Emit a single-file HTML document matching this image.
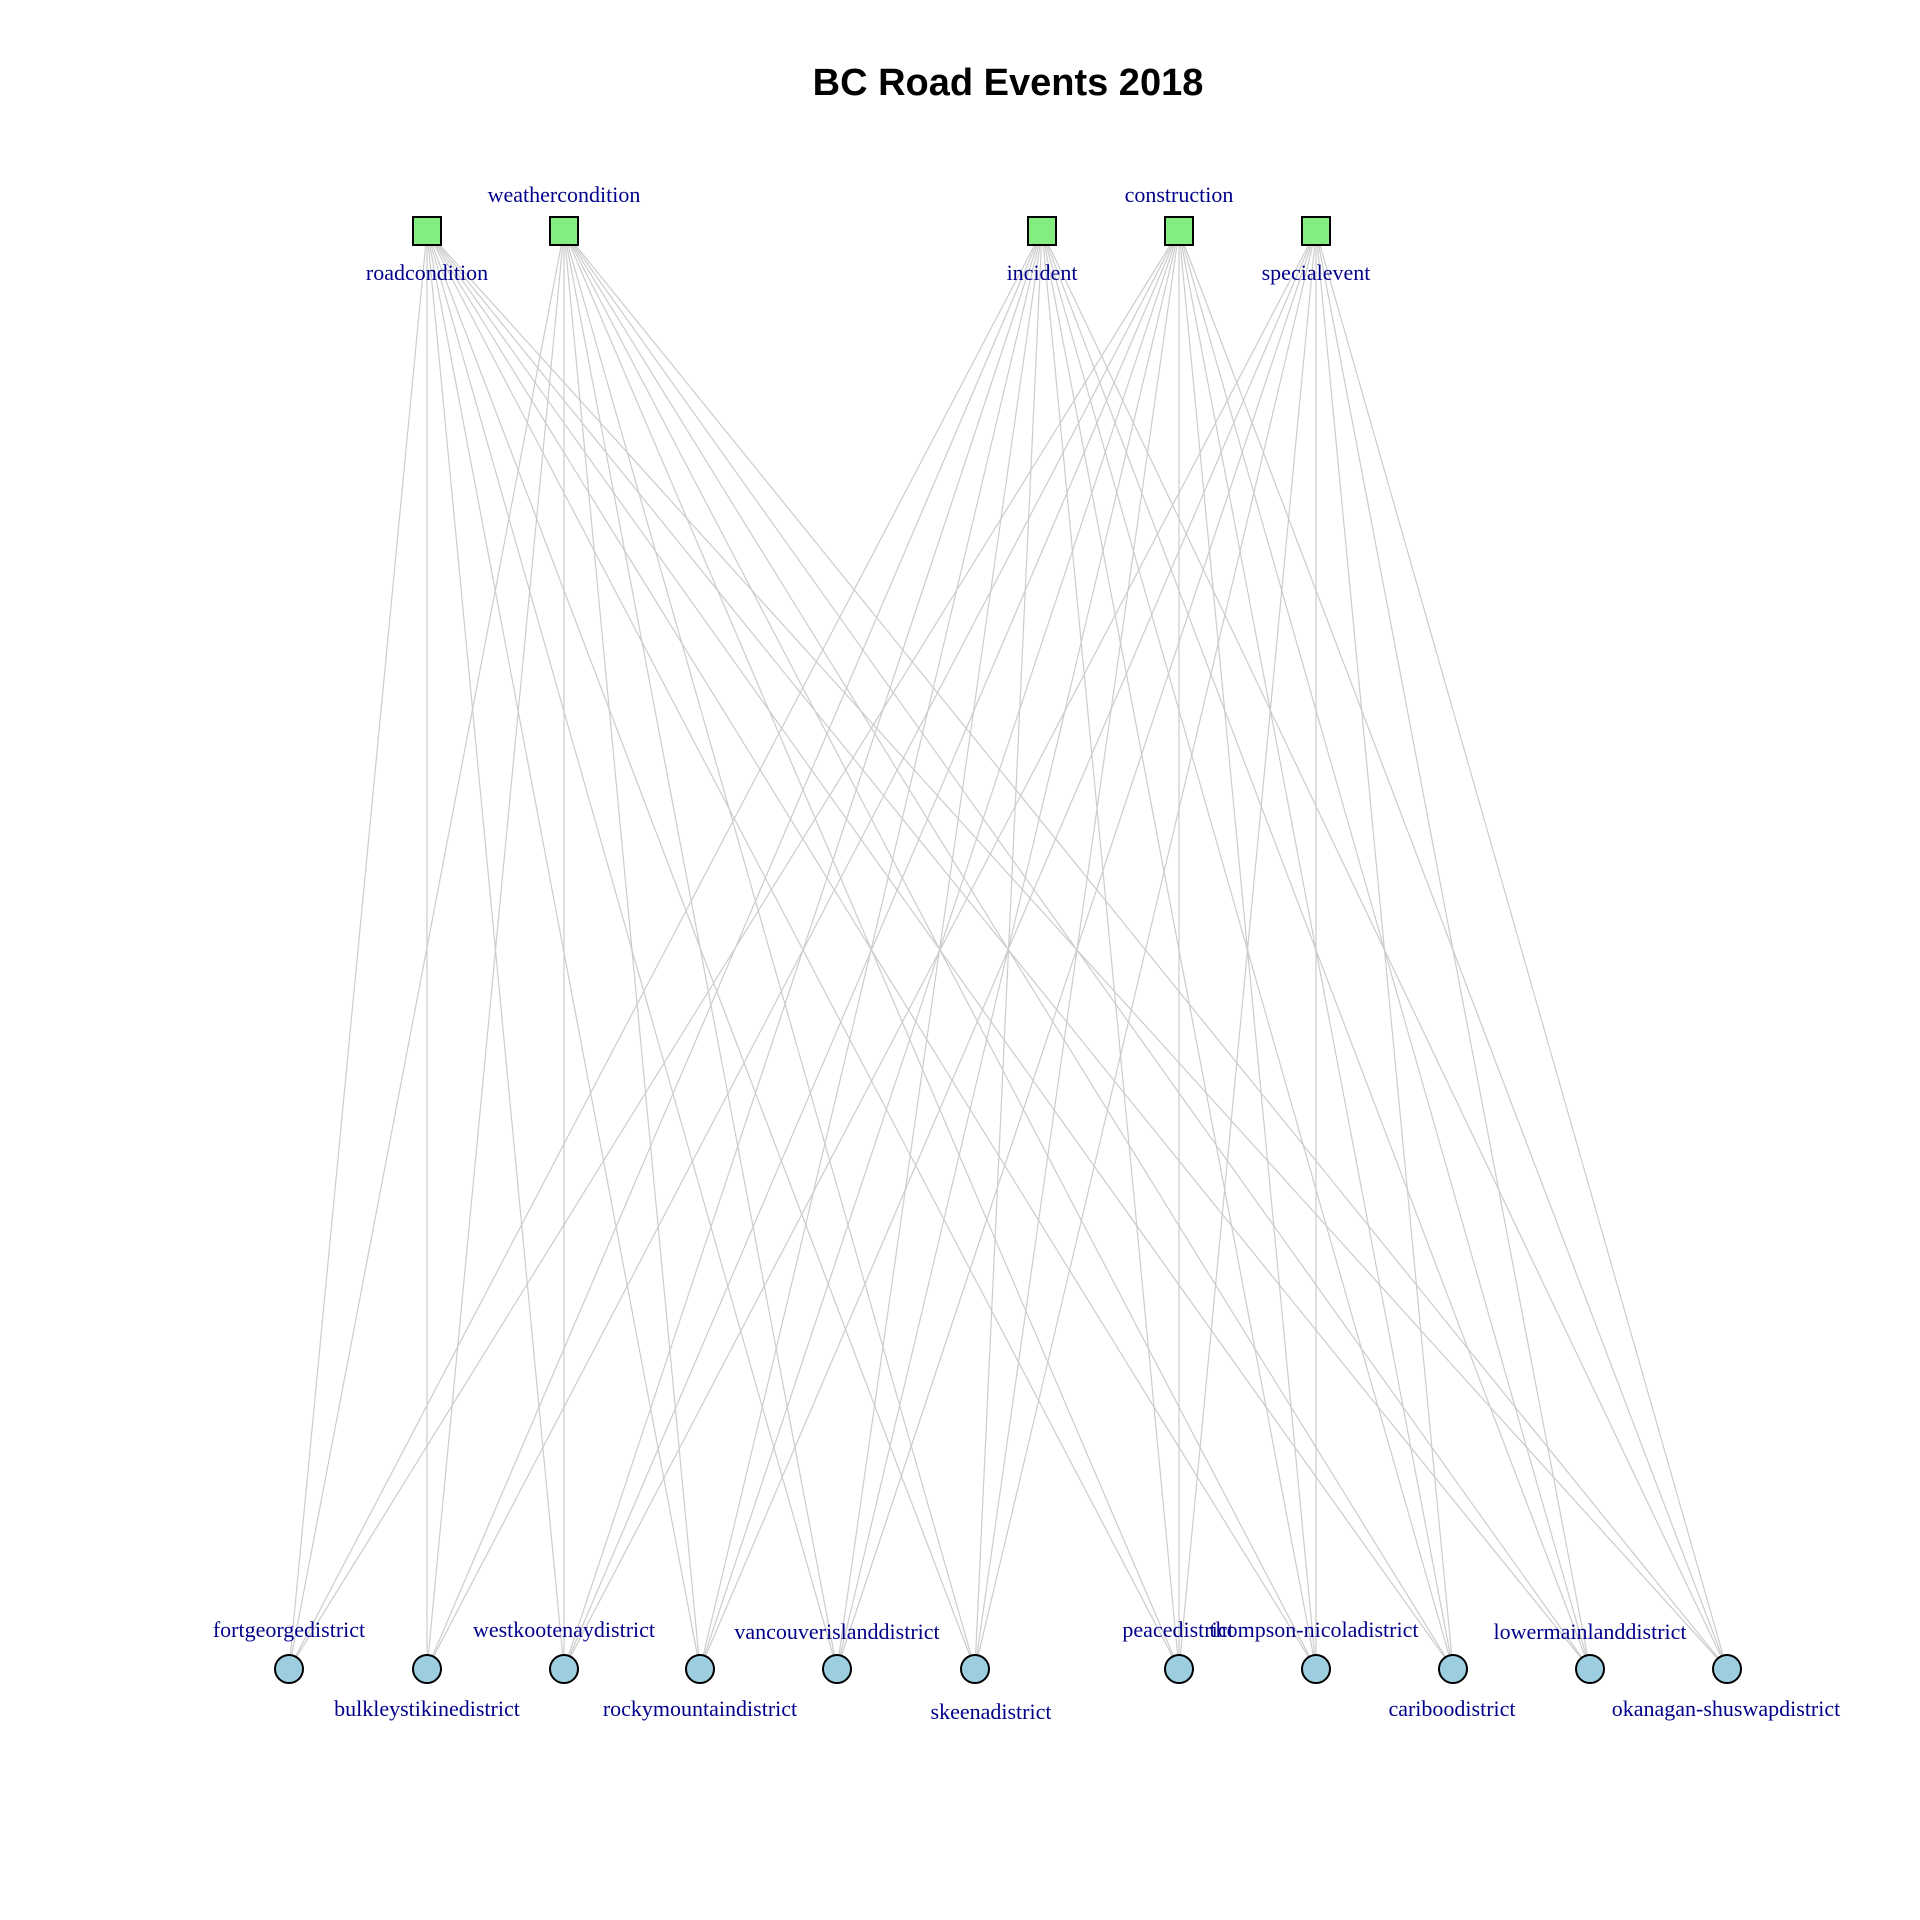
<!DOCTYPE html>
<html><head><meta charset="utf-8"><style>
html,body{margin:0;padding:0;background:#fff;}
svg{display:block;}
.lbl{font-family:"Liberation Serif",serif;font-size:22px;fill:#00008B;}
</style></head><body>
<svg id="chart" width="1920" height="1920" viewBox="0 0 1920 1920">
<text x="1008" y="95" text-anchor="middle" font-family="Liberation Sans, sans-serif" font-weight="bold" font-size="38">BC Road Events 2018</text>
<g id="edges"></g>
<g id="nodes"></g>
</svg>
<script>
const eventTypes = ["roadcondition","weathercondition","incident","construction","specialevent"];
const eventX = [427,564,1042,1179,1316];
const eventLabelAbove = [false,true,false,true,false];
const districts = ["fortgeorgedistrict","bulkleystikinedistrict","westkootenaydistrict","rockymountaindistrict","vancouverislanddistrict","skeenadistrict","peacedistrict","thompson-nicoladistrict","cariboodistrict","lowermainlanddistrict","okanagan-shuswapdistrict"];
const districtX = [289,427,564,700,837,975,1179,1316,1453,1590,1727];
const districtLabelX = [289,427,564,700,837,991,1178,1314,1452,1590,1726];
const districtLabelAbove = [true,false,true,false,true,false,true,true,false,true,false];
// edges: [eventIndex, districtIndex]
const edgeList = [];
for (let e = 0; e < 5; e++) for (let d = 0; d < 11; d++) {
  if (e === 4 && (d === 0 || d === 1)) continue;
  edgeList.push([e, d]);
}
const topY = 231, botY = 1669;
const NS = "http://www.w3.org/2000/svg";
const gE = document.getElementById("edges"), gN = document.getElementById("nodes");
edgeList.forEach(([e, d]) => {
  const l = document.createElementNS(NS, "line");
  l.setAttribute("x1", eventX[e]); l.setAttribute("y1", topY);
  l.setAttribute("x2", districtX[d]); l.setAttribute("y2", botY);
  l.setAttribute("stroke", "#cccccc"); l.setAttribute("stroke-width", "1.2");
  
  
  gE.appendChild(l);
});
eventTypes.forEach((n, i) => {
  const r = document.createElementNS(NS, "rect");
  r.setAttribute("x", eventX[i] - 14); r.setAttribute("y", topY - 14);
  r.setAttribute("width", 28); r.setAttribute("height", 28);
  r.setAttribute("fill", "#83EE7F"); r.setAttribute("stroke", "#000"); r.setAttribute("stroke-width", "2");
  
  
  gN.appendChild(r);
  const t = document.createElementNS(NS, "text");
  t.setAttribute("x", eventX[i]); t.setAttribute("y", eventLabelAbove[i] ? 202 : 280);
  t.setAttribute("text-anchor", "middle"); t.setAttribute("class", "lbl");
  t.textContent = n;
  
  
  gN.appendChild(t);
});
districts.forEach((n, i) => {
  const c = document.createElementNS(NS, "circle");
  c.setAttribute("cx", districtX[i]); c.setAttribute("cy", botY); c.setAttribute("r", 14);
  c.setAttribute("fill", "#9DCEE0"); c.setAttribute("stroke", "#000"); c.setAttribute("stroke-width", "2");
  
  
  gN.appendChild(c);
  const t = document.createElementNS(NS, "text");
  t.setAttribute("x", districtLabelX[i]);
  let y = districtLabelAbove[i] ? 1637 : 1716;
  if (n === "vancouverislanddistrict" || n === "lowermainlanddistrict") y = 1639;
  if (n === "skeenadistrict") y = 1719;
  t.setAttribute("y", y);
  t.setAttribute("text-anchor", "middle"); t.setAttribute("class", "lbl");
  t.textContent = n;
  
  
  gN.appendChild(t);
});
</script>
</body></html>
